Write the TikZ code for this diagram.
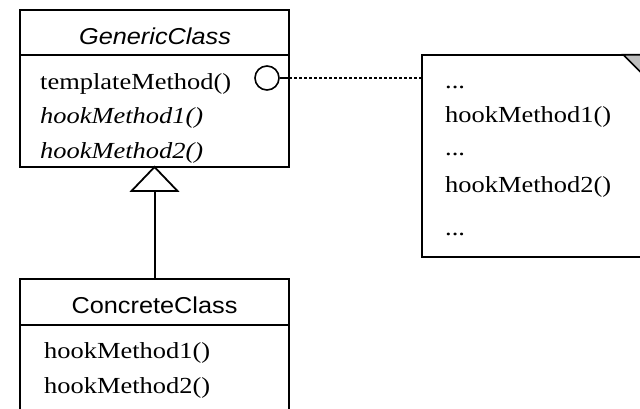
\documentclass[tikz,border=0pt]{standalone}
\usepackage{fontspec}
\setmainfont{Liberation Serif}[FakeStretch=1.15]
\newfontfamily\umlsans{Liberation Sans}[FakeStretch=1.1]
\usetikzlibrary{positioning}
\begin{document}
\begin{tikzpicture}[x=1pt,y=-1pt,
    classpart/.style={draw=black,line width=2pt,minimum width=269pt,inner sep=0pt,outer sep=0pt},
    optext/.style={anchor=base west,inner sep=0pt,font=\fontsize{23}{26}\selectfont},
    titletext/.style={anchor=base,inner sep=0pt,font=\umlsans\fontsize{23}{26}\selectfont},
    dotline/.style={line width=1.4pt,dash pattern=on 2.5pt off 2.5pt}]
    \useasboundingbox (0,0) rectangle (640,409);
    % abstract class
    \node[classpart,minimum height=45pt] (gentitle) at (154.5,32.5) {};
    \node[classpart,minimum height=112pt,below=0pt of gentitle] (genops) {};
    \node[titletext] (genname) at (155,45) {\itshape GenericClass};
    \node[optext] (tmpl) at (40,90) {templateMethod()};
    \node[optext] (hook1) at (40,124) {\itshape hookMethod1()};
    \node[optext] (hook2) at (40,158) {\itshape hookMethod2()};
    \node[draw,circle,line width=1.6pt,minimum size=24pt,inner sep=0pt] (tmplmark) at (267,78) {};
    \coordinate (markend) at (genops.east |- tmplmark);
    \draw [line width=1.6pt] (tmplmark.east) -- (markend);
    % generalisation
    \draw [line width=1.8pt,fill=white] (genops.south) -- ++(23,24) -- ++(-46,0) -- cycle;
    \path (genops.south) ++(0,24) coordinate (tribase);
    % concrete class
    \node[classpart,minimum height=46pt] (conctitle) at (154.5,302) {};
    \node[classpart,minimum height=110pt,below=0pt of conctitle] (concops) {};
    \draw [line width=2pt] (tribase) -- (conctitle.north);
    \node[titletext] (concname) at (154.5,313) {ConcreteClass};
    \node[optext] (conchook1) at (44,358) {hookMethod1()};
    \node[optext] (conchook2) at (44,393) {hookMethod2()};
    % note
    \node[minimum width=223pt,minimum height=202pt,inner sep=0pt] (note) at (533.5,156) {};
    \draw [line width=2pt] (note.north west) rectangle (note.south east);
    \draw [line width=1.6pt,fill=black!25] (note.north east) ++(-22,0) -- ++(22,22) -- (note.north east) -- cycle;
    \node[optext] (dots1) at (445,89) {...};
    \node[optext] (notehook1) at (445,123) {hookMethod1()};
    \node[optext] (dots2) at (445,156) {...};
    \node[optext] (notehook2) at (445,192) {hookMethod2()};
    \node[optext] (dots3) at (445,235) {...};
    \draw [dotline] (markend) -- (markend -| note.west);
\end{tikzpicture}
\end{document}
